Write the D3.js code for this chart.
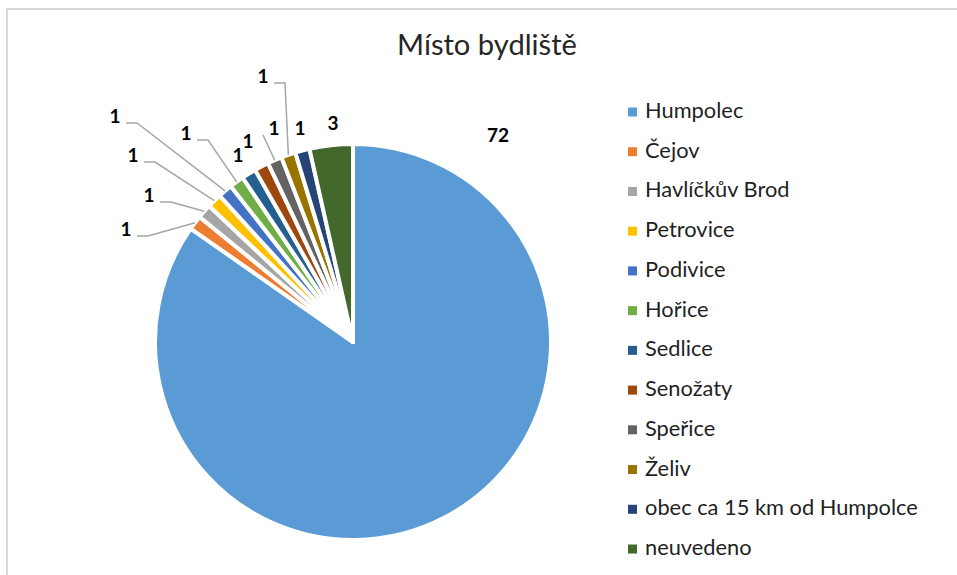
<!DOCTYPE html>
<html>
<head>
  <meta charset="utf-8">
  <script src="https://cdnjs.cloudflare.com/ajax/libs/d3/7.8.5/d3.min.js"></script>
  <style>
    body { margin: 0; background: white; }
    svg text { font-family: Lato, "Open Sans", sans-serif; }
    .title { font-size: 24px; fill: #262626; }
    .legend text { fill: #1f1f1f; }
    .value-label { font-weight: bold; fill: #000; }
    .leader { fill: none; stroke: #a6a6a6; stroke-width: 1.5px; }
  </style>
</head>
<body>
  <div id="chart"></div>

  <script>
    // data
    const categories = ["Humpolec", "Čejov", "Havlíčkův Brod", "Petrovice", "Podivice", "Hořice",
      "Sedlice", "Senožaty", "Speřice", "Želiv", "obec ca 15 km od Humpolce", "neuvedeno"];
    const values = [72, 1, 1, 1, 1, 1, 1, 1, 1, 1, 1, 3];
    const colors = ["#5b9bd5", "#ed7d31", "#a5a5a5", "#ffc000", "#4472c4", "#70ad47",
      "#255e91", "#9e480e", "#636363", "#997300", "#264478", "#43682b"];

    // label layout (label centre x, baseline y) as the labels were placed by hand
    const labelPos = [[498, 142], [126, 236], [149, 202], [133, 162], [115, 123], [186, 140],
      [238, 162], [248, 148], [274, 135], [263, 83], [300, 135], [333, 130]];
    // leader side: "r" = leader leaves to the right of the label, "l" = from the left
    const leaderSide = [null, "r", "r", "r", "r", "r", null, null, "l", "r", null, null];

    const width = 957, height = 575;
    const cx = 353, cy = 342, radius = 198;

    const svg = d3.select("#chart").append("svg")
      .attr("width", width)
      .attr("height", height);

    // chart frame (runs off the right and bottom edges)
    svg.append("rect")
      .attr("x", 7).attr("y", 9)
      .attr("width", 1000).attr("height", 1000)
      .attr("fill", "none")
      .attr("stroke", "#d9d9d9")
      .attr("stroke-width", 2);

    const title = svg.append("text")
      .attr("class", "title")
      .attr("x", 487).attr("y", 55)
      .attr("text-anchor", "middle")
      .text("Místo bydliště");
    // fit title to the width it has in the original
    const tw = title.node().getComputedTextLength();
    title.style("font-size", (24 * 180 / tw) + "px");

    const pie = d3.pie().sort(null).value(d => d);
    const slices = pie(values);

    const arc = d3.arc().innerRadius(0).outerRadius(radius);
    const edge = d3.arc().innerRadius(radius).outerRadius(radius);

    const g = svg.append("g").attr("transform", `translate(${cx},${cy})`);

    g.selectAll("path.slice")
      .data(slices)
      .enter()
      .append("path")
      .attr("class", "slice")
      .attr("d", arc)
      .attr("fill", (d, i) => colors[i])
      .attr("stroke", "white")
      .attr("stroke-width", 4)
      .attr("stroke-linejoin", "round");

    // leader lines
    slices.forEach((d, i) => {
      const side = leaderSide[i];
      if (!side) return;
      const [ax, ay] = edge.centroid(d);
      const [lx, ly] = labelPos[i];
      let pts;
      if (side === "r") {
        pts = [[lx + 11, ly], [lx + 22, ly], [cx + ax, cy + ay]];
      } else {
        pts = [[lx - 11, ly], [cx + ax, cy + ay]];
      }
      svg.append("path")
        .attr("class", "leader")
        .attr("d", d3.line()(pts));
    });

    const labels = svg.selectAll("text.value-label")
      .data(slices)
      .enter()
      .append("text")
      .attr("class", "value-label")
      .attr("x", (d, i) => labelPos[i][0])
      .attr("y", (d, i) => labelPos[i][1])
      .attr("text-anchor", "middle")
      .style("font-size", "19px")
      .text(d => d.data);

    // legend
    const legend = svg.append("g").attr("class", "legend");
    const rowY = d3.scalePoint().domain(categories).range([112, 549]);

    legend.selectAll("rect")
      .data(categories)
      .enter()
      .append("rect")
      .attr("x", 628)
      .attr("y", d => rowY(d) - 4.5)
      .attr("width", 9)
      .attr("height", 9)
      .attr("fill", (d, i) => colors[i]);

    const legText = legend.selectAll("text")
      .data(categories)
      .enter()
      .append("text")
      .attr("x", 645)
      .attr("y", d => rowY(d) + 6)
      .style("font-size", "20px")
      .text(d => d);

    // fit legend font to the longest entry (273px in the original)
    const longest = d3.max(legText.nodes(), n => n.getComputedTextLength());
    legText.style("font-size", (20 * 273 / longest) + "px");
  </script>
</body>
</html>
